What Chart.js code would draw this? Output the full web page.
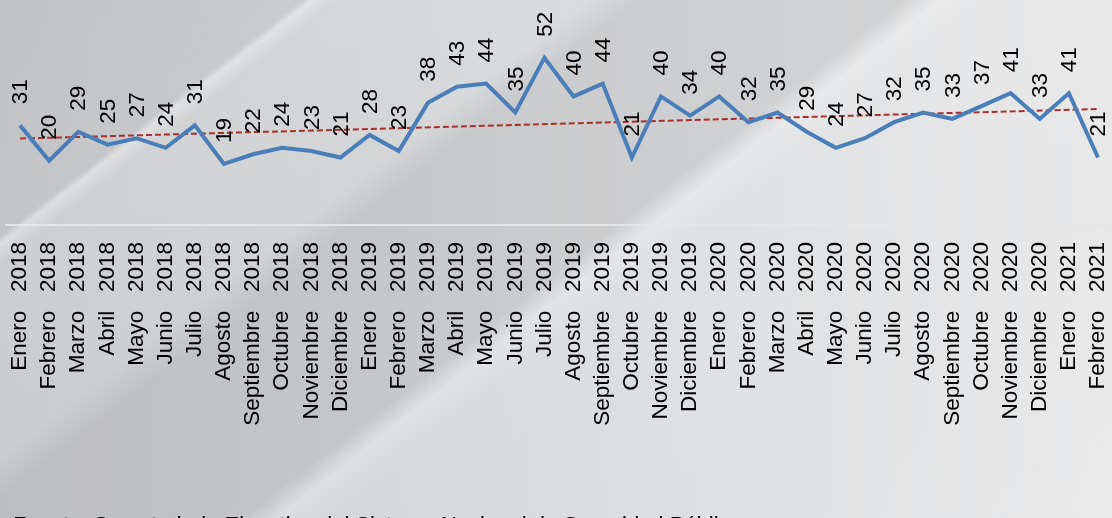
<!DOCTYPE html>
<html>
<head>
<meta charset="utf-8">
<script src="https://cdn.jsdelivr.net/npm/chart.js@4/dist/chart.umd.min.js"></script>
<style>
  html, body { margin: 0; padding: 0; }
  body {
    width: 1112px; height: 518px; overflow: hidden;
    background:
      linear-gradient(142deg,
        rgba(0,0,0,0.05) 0%, rgba(0,0,0,0.04) 17%,
        rgba(255,255,255,0.35) 17.6%, rgba(255,255,255,0.05) 19%,
        rgba(0,0,0,0) 33%, rgba(0,0,0,0.07) 36%, rgba(0,0,0,0.07) 51%,
        rgba(255,255,255,0.25) 53%, rgba(255,255,255,0.05) 56%,
        rgba(255,255,255,0) 80%, rgba(255,255,255,0.1) 100%),
      linear-gradient(to right, #cbccce 0%, #d5d6d8 35%, #dfe0e1 65%, #e8e8e9 100%);
  }
  #wrap { position: absolute; left: 0; top: 0; width: 1112px; height: 518px; }
</style>
</head>
<body>
<div id="wrap"><canvas id="chart"></canvas></div>
<script>
const categories = [
  'Enero   2018', 'Febrero   2018', 'Marzo   2018', 'Abril   2018', 'Mayo   2018', 'Junio   2018',
  'Julio   2018', 'Agosto   2018', 'Septiembre   2018', 'Octubre   2018', 'Noviembre   2018', 'Diciembre   2018',
  'Enero   2019', 'Febrero   2019', 'Marzo   2019', 'Abril   2019', 'Mayo   2019', 'Junio   2019',
  'Julio   2019', 'Agosto   2019', 'Septiembre   2019', 'Octubre   2019', 'Noviembre   2019', 'Diciembre   2019',
  'Enero   2020', 'Febrero   2020', 'Marzo   2020', 'Abril   2020', 'Mayo   2020', 'Junio   2020',
  'Julio   2020', 'Agosto   2020', 'Septiembre   2020', 'Octubre   2020', 'Noviembre   2020', 'Diciembre   2020',
  'Enero   2021', 'Febrero   2021'
];
const values = [31, 20, 29, 25, 27, 24, 31, 19, 22, 24, 23, 21,
  28, 23, 38, 43, 44, 35, 52, 40, 44, 21, 40, 34,
  40, 32, 35, 29, 24, 27, 32, 35, 33, 37, 41, 33,
  41, 21];
// trend line end points
const trendStart = 26.9;
const trendEnd = 36.1;

const fontFamily = '"Liberation Sans", Arial, sans-serif';

const valueLabels = {
  id: 'valueLabels',
  beforeDatasetsDraw(chart) {
    // light axis line across the full width
    const ctx = chart.ctx;
    const y = chart.chartArea.bottom;
    ctx.save();
    ctx.strokeStyle = '#e6e6e7';
    ctx.lineWidth = 2;
    ctx.beginPath();
    ctx.moveTo(5, y);
    ctx.lineTo(1108, y);
    ctx.stroke();
    ctx.restore();
  },
  afterDatasetsDraw(chart) {
    const ctx = chart.ctx;
    const meta = chart.getDatasetMeta(0);
    ctx.save();
    ctx.font = '22.5px ' + fontFamily;
    ctx.fillStyle = '#000';
    ctx.textAlign = 'left';
    ctx.textBaseline = 'middle';
    meta.data.forEach((pt, i) => {
      ctx.save();
      ctx.translate(pt.x + 1, pt.y - 21);
      ctx.rotate(-Math.PI / 2);
      ctx.fillText(String(values[i]), 0, 0);
      ctx.restore();
    });
    ctx.restore();
  },
  afterDraw(chart) {
    const ctx = chart.ctx;
    ctx.save();
    ctx.font = '22px ' + fontFamily;
    ctx.fillStyle = '#000';
    ctx.textBaseline = 'alphabetic';
    ctx.fillText('Fuente: Secretariado Ejecutivo del Sistema Nacional de Seguridad Pública', 13, 532);
    ctx.restore();
  }
};

Chart.defaults.font.family = fontFamily;

new Chart(document.getElementById('chart'), {
  type: 'line',
  data: {
    labels: categories,
    datasets: [{
      data: values,
      borderColor: '#4a7ebb',
      borderWidth: 4,
      pointRadius: 0,
      tension: 0,
      fill: false
    }, {
      data: [{ x: categories[0], y: trendStart }, { x: categories[categories.length - 1], y: trendEnd }],
      borderColor: '#a8302c',
      borderWidth: 2,
      borderDash: [6, 3],
      pointRadius: 0,
      fill: false
    }]
  },
  options: {
    responsive: true,
    maintainAspectRatio: false,
    animation: false,
    layout: { padding: { left: 20, right: 14, top: 0, bottom: 0 } },
    plugins: { legend: { display: false }, tooltip: { enabled: false } },
    scales: {
      x: {
        offset: false,
        grid: { display: false, drawTicks: false },
        border: { display: false },
        ticks: {
          autoSkip: false,
          minRotation: 90,
          maxRotation: 90,
          padding: 17,
          color: '#000',
          font: { size: 22.5 }
        },
        afterFit(scale) {
          scale.height = 293;
          scale.paddingLeft = 0;
          scale.paddingRight = 0;
        }
      },
      y: {
        display: false,
        min: 0,
        max: 70
      }
    }
  },
  plugins: [valueLabels]
});
</script>
</body>
</html>
